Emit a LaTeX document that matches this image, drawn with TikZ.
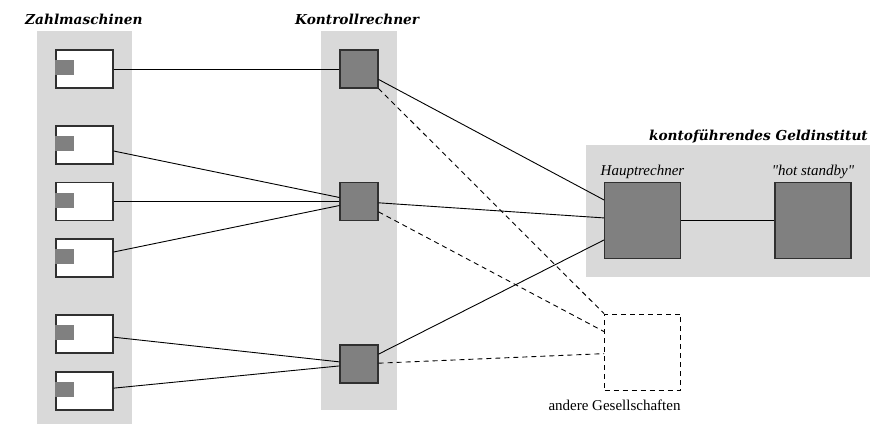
\documentclass[tikz,border=0pt]{standalone}
\usepackage{fontspec}
\setmainfont{Liberation Serif}
\newfontfamily\plainserif{Liberation Serif}[Ligatures=TeXOff]
\newfontfamily\headfont{DejaVu Serif}
\usetikzlibrary{calc}
\definecolor{panelgray}{HTML}{D9D9D9}
\definecolor{boxgray}{HTML}{808080}
\definecolor{boxedge}{HTML}{303030}
\begin{document}
\begin{tikzpicture}[x=1pt,y=-1pt,
  atm/.style={draw=boxedge, fill=white, line width=1.1pt, minimum width=57pt, minimum height=38pt, inner sep=0pt},
  ctrl/.style={draw=boxedge, fill=boxgray, line width=1.1pt, minimum size=38pt, inner sep=0pt},
  host/.style={draw=boxedge, fill=boxgray, line width=1.1pt, minimum size=76pt, inner sep=0pt},
  other/.style={draw=black, line width=0.9pt, dash pattern=on 5pt off 4pt, minimum size=76pt, inner sep=0pt},
  link/.style={line width=0.9pt},
  altlink/.style={line width=0.9pt, dash pattern=on 5pt off 4pt},
  grouptitle/.style={font=\headfont\fontsize{13.7}{16}\selectfont\bfseries\itshape, inner sep=0pt},
  caption/.style={font=\fontsize{15}{17}\selectfont, inner sep=0pt},
  slot/.style={fill=boxgray}]

\fill[white] (0,0) rectangle (890,424);
\useasboundingbox (0,0) rectangle (890,424);

% group backgrounds
\fill[panelgray] (37,31) rectangle (132,424);
\fill[panelgray] (321,31) rectangle (397,410);
\fill[panelgray] (586,145) rectangle (870,277);

% group titles
\node[grouptitle, anchor=base west] (tzahl) at (25,24) {Zahlmaschinen};
\node[grouptitle, anchor=base west] (tkontr) at (295,24) {Kontrollrechner};
\node[grouptitle, anchor=base east] (tbank) at (868,140) {kontoführendes Geldinstitut};

% cash machines
\node[atm] (a1) at (84.5,69) {};
\node[atm] (a2) at (84.5,145) {};
\node[atm] (a3) at (84.5,201.5) {};
\node[atm] (a4) at (84.5,258) {};
\node[atm] (a5) at (84.5,334) {};
\node[atm] (a6) at (84.5,391) {};
\foreach \m in {a1,a2,a3,a4,a5,a6}
  \fill[slot] ($(\m.north west)+(-0.55,11)$) rectangle ($(\m.north west)+(19,26)$);

% control computers
\node[ctrl] (k1) at (359,69) {};
\node[ctrl] (k2) at (359,201.5) {};
\node[ctrl] (k3) at (359,364) {};

% bank computers
\node[host] (main) at (642.5,220.5) {};
\node[host] (standby) at (813,220.5) {};
\node[caption, anchor=base] (lmain) at (642.5,175) {\itshape Hauptrechner};
\node[caption, anchor=base] (lstandby) at (813,175) {\plainserif\itshape "hot standby"};

% other companies
\node[other] (others) at (642.5,352) {};
\node[caption, anchor=base] (lothers) at (614.5,410) {andere Gesellschaften};

% connections
\draw[link] (a1) -- (k1);
\draw[link] (a2) -- (k2);
\draw[link] (a3) -- (k2);
\draw[link] (a4) -- (k2);
\draw[link] (a5) -- (k3);
\draw[link] (a6) -- (k3);
\draw[link] (k1) -- (main);
\draw[link] (k2) -- (main);
\draw[link] (k3) -- (main);
\draw[link] (main) -- (standby);
\draw[altlink] (k1) -- (others);
\draw[altlink] (k2) -- (others);
\draw[altlink] (k3) -- (others);
\end{tikzpicture}
\end{document}
